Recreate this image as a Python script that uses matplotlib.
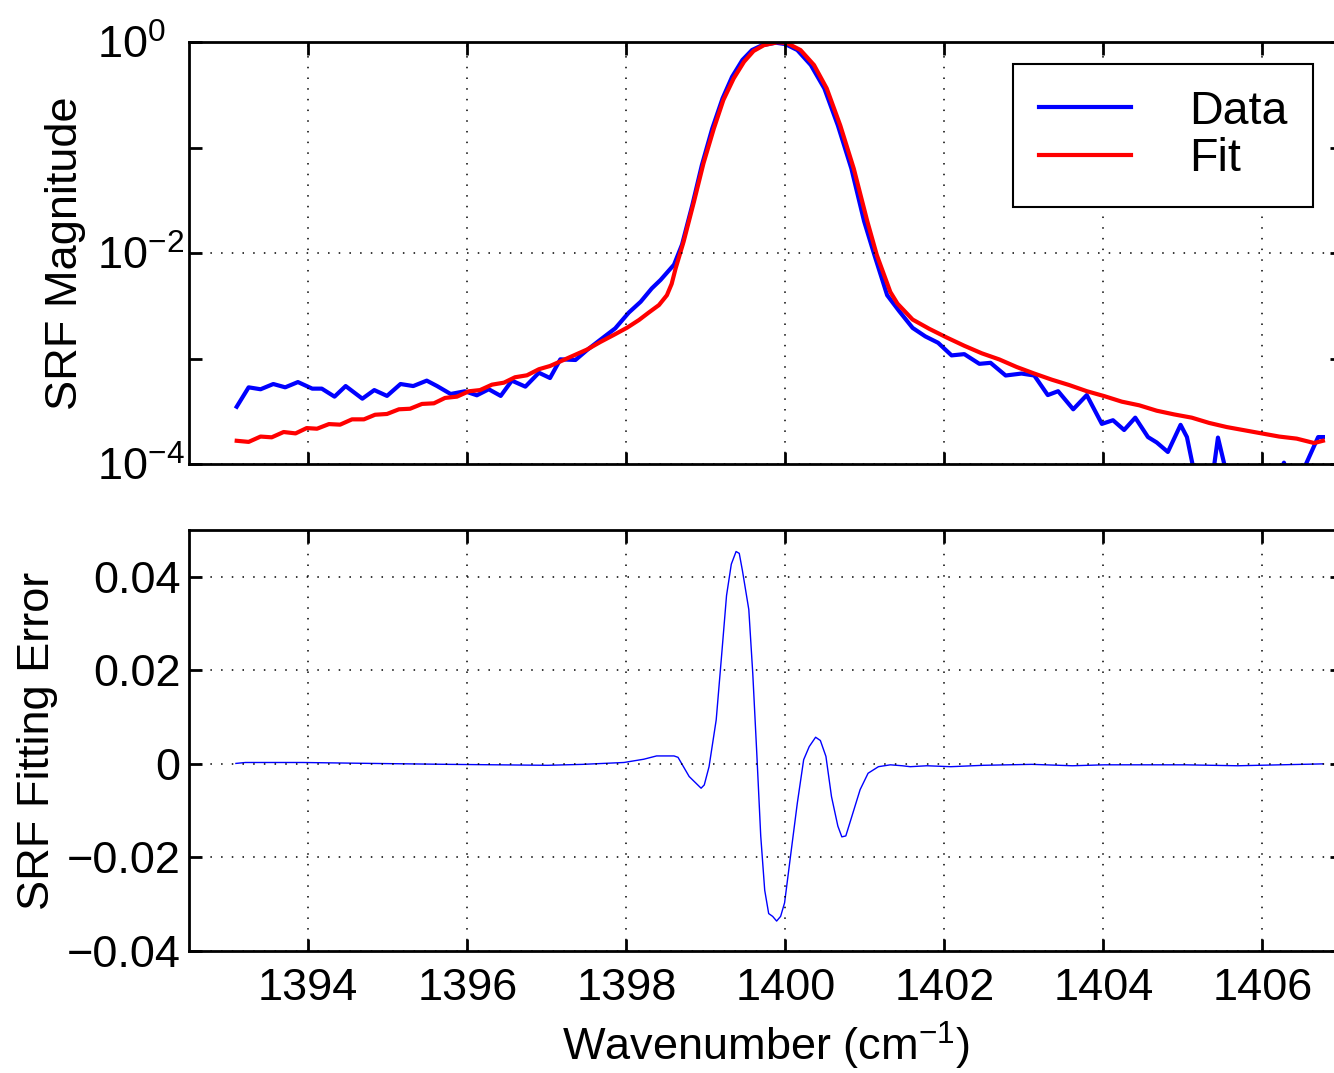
import numpy as np
import matplotlib
matplotlib.use("Agg")
import matplotlib.pyplot as plt
from matplotlib.ticker import FixedLocator, FuncFormatter, NullFormatter

# DATA
data_wn = [1393.10, 1393.25, 1393.40, 1393.56, 1393.71, 1393.87, 1394.05, 1394.17,
           1394.33, 1394.47, 1394.68, 1394.83, 1394.99, 1395.16, 1395.32, 1395.49,
           1395.62, 1395.79, 1395.97, 1396.12, 1396.27, 1396.42, 1396.56, 1396.73,
           1396.90, 1397.04, 1397.17, 1397.36, 1397.51, 1397.67, 1397.86, 1398.03,
           1398.18, 1398.32, 1398.43, 1398.60, 1398.70, 1398.83, 1398.95, 1399.08,
           1399.21, 1399.33, 1399.46, 1399.58, 1399.71, 1399.88, 1400.00, 1400.15,
           1400.32, 1400.49, 1400.66, 1400.83, 1400.99, 1401.12, 1401.28, 1401.43,
           1401.60, 1401.76, 1401.92,
           1402.09, 1402.25, 1402.44, 1402.58, 1402.77, 1402.97, 1403.13, 1403.30,
           1403.43, 1403.62, 1403.79, 1403.98, 1404.12, 1404.26, 1404.40, 1404.56,
           1404.67, 1404.81, 1404.97, 1405.05, 1405.18, 1405.30, 1405.44, 1405.55,
           1405.70, 1405.90, 1406.10, 1406.27, 1406.40, 1406.52, 1406.70, 1406.76]
data_srf = [3.49e-4, 5.33e-4, 5.11e-4, 5.73e-4, 5.33e-4, 5.98e-4, 5.18e-4, 5.18e-4,
            4.35e-4, 5.48e-4, 4.16e-4, 5.02e-4, 4.42e-4, 5.73e-4, 5.48e-4, 6.17e-4,
            5.48e-4, 4.61e-4, 4.89e-4, 4.48e-4, 5.11e-4, 4.42e-4, 6.17e-4, 5.41e-4,
            7.33e-4, 6.53e-4, 9.82e-4, 9.68e-4, 1.21e-3, 1.50e-3, 1.93e-3, 2.72e-3,
            3.45e-3, 4.62e-3, 5.55e-3, 7.76e-3, 1.20e-2, 2.85e-2, 6.82e-2, 0.151,
            0.292, 0.468, 0.676, 0.839, 0.933, 0.985, 0.955, 0.839,
            0.605, 0.363, 0.162, 6.31e-2, 2.00e-2, 9.55e-3, 3.98e-3, 2.82e-3,
            1.95e-3, 1.62e-3, 1.41e-3,
            1.07e-3, 1.10e-3, 8.9e-4, 9.1e-4, 6.9e-4, 7.2e-4, 6.9e-4, 4.5e-4,
            4.9e-4, 3.3e-4, 4.5e-4, 2.4e-4, 2.6e-4, 2.1e-4, 2.75e-4, 1.8e-4,
            1.6e-4, 1.3e-4, 2.35e-4, 1.8e-4, 6e-5, 3e-5, 1.78e-4, 8e-5,
            3e-5, 2e-5, 5e-5, 1.03e-4, 5e-5, 9e-5, 1.8e-4, 1.8e-4]

fit_wn = [1393.10, 1393.25, 1393.40, 1393.54, 1393.69, 1393.84, 1393.98, 1394.11,
          1394.26, 1394.40, 1394.55, 1394.70, 1394.84, 1394.99, 1395.14, 1395.28,
          1395.43, 1395.58, 1395.72, 1395.87, 1396.02, 1396.16, 1396.31, 1396.46,
          1396.60, 1396.75, 1396.90, 1397.04, 1397.19, 1397.34, 1397.51, 1397.67,
          1397.84, 1398.01, 1398.16, 1398.28, 1398.41, 1398.51, 1398.57, 1398.62,
          1398.72, 1398.85, 1398.97, 1399.10, 1399.22, 1399.35, 1399.48, 1399.60,
          1399.73, 1399.90, 1400.02, 1400.19, 1400.36, 1400.52, 1400.69, 1400.86,
          1401.03, 1401.15, 1401.32, 1401.41, 1401.60, 1401.81, 1402.03,
          1402.25, 1402.47, 1402.69, 1402.91, 1403.13, 1403.35, 1403.57, 1403.79,
          1404.01, 1404.23, 1404.45, 1404.67, 1404.89, 1405.11, 1405.33, 1405.55,
          1405.77, 1405.99, 1406.21, 1406.43, 1406.65, 1406.76]
fit_srf = [1.66e-4, 1.62e-4, 1.82e-4, 1.79e-4, 2.01e-4, 1.95e-4, 2.19e-4, 2.16e-4,
           2.39e-4, 2.36e-4, 2.65e-4, 2.65e-4, 2.93e-4, 2.98e-4, 3.30e-4, 3.34e-4,
           3.71e-4, 3.76e-4, 4.23e-4, 4.35e-4, 4.89e-4, 5.02e-4, 5.65e-4, 5.90e-4,
           6.64e-4, 6.93e-4, 7.91e-4, 8.49e-4, 9.53e-4, 1.07e-3, 1.22e-3, 1.43e-3,
           1.67e-3, 1.96e-3, 2.32e-3, 2.72e-3, 3.21e-3, 3.98e-3, 5.10e-3, 7.16e-3,
           1.28e-2, 3.06e-2, 7.08e-2, 0.151, 0.282, 0.452, 0.650, 0.822,
           0.933, 0.995, 0.977, 0.839, 0.605, 0.363, 0.162, 6.31e-2,
           2.00e-2, 9.55e-3, 4.27e-3, 3.31e-3, 2.34e-3, 1.91e-3, 1.58e-3,
           1.32e-3, 1.12e-3, 9.8e-4, 8.3e-4, 7.2e-4, 6.3e-4, 5.6e-4, 4.9e-4,
           4.4e-4, 3.9e-4, 3.6e-4, 3.2e-4, 2.95e-4, 2.75e-4, 2.45e-4, 2.24e-4,
           2.09e-4, 1.95e-4, 1.82e-4, 1.74e-4, 1.58e-4, 1.66e-4]

err_wn = [1393.09, 1393.21, 1393.93, 1394.80, 1395.76, 1397.01, 1397.45, 1397.97,
          1398.22, 1398.38, 1398.60, 1398.65, 1398.79, 1398.94, 1398.98, 1399.04,
          1399.13, 1399.20, 1399.26, 1399.32, 1399.38, 1399.42, 1399.46, 1399.54,
          1399.59, 1399.64, 1399.69, 1399.74, 1399.79, 1399.84, 1399.89, 1399.94,
          1399.99, 1400.07, 1400.15, 1400.23, 1400.30, 1400.38, 1400.44, 1400.51,
          1400.58, 1400.66, 1400.71, 1400.76, 1400.84, 1400.94, 1401.04, 1401.17,
          1401.32, 1401.47, 1401.57, 1401.78, 1402.08, 1402.49, 1403.10, 1403.61,
          1404.01, 1405.03, 1405.69, 1406.76]
err_val = [0.0001, 0.0003, 0.0003, 0.0001, -0.0001, -0.0003, -0.0001, 0.0003,
           0.0010, 0.0017, 0.0017, 0.0014, -0.0027, -0.0052, -0.0045, -0.0006,
           0.0094, 0.0236, 0.0360, 0.0427, 0.0454, 0.0450, 0.0413, 0.0330,
           0.0193, 0.0024, -0.0154, -0.0270, -0.0320, -0.0326, -0.0336, -0.0326,
           -0.0297, -0.0190, -0.0084, 0.0009, 0.0037, 0.0057, 0.0050, 0.0016,
           -0.0070, -0.0133, -0.0156, -0.0154, -0.0110, -0.0055, -0.0020, -0.0006,
           -0.0002, -0.0004, -0.0006, -0.0004, -0.0006, -0.0003, -0.0001, -0.0004,
           -0.0002, -0.0002, -0.0004, 0.0000]

x_ticks = [1394, 1396, 1398, 1400, 1402, 1404, 1406]

plt.rcParams['font.family'] = ['Liberation Sans', 'DejaVu Sans']
plt.rcParams['mathtext.fontset'] = 'custom'
plt.rcParams['mathtext.rm'] = 'Liberation Sans'
plt.rcParams['mathtext.it'] = 'Liberation Sans:italic'
plt.rcParams['mathtext.default'] = 'regular'

FS = 32.5
W, H = 1334, 1073
fig = plt.figure(figsize=(W / 100, H / 100), dpi=100)

def px_axes(left, top, right, bottom):
    return fig.add_axes([left / W, 1 - bottom / H, (right - left) / W, (bottom - top) / H])

ax1 = px_axes(189, 42, 1342, 464)
ax2 = px_axes(189, 530, 1342, 951)

grid_style = dict(color='k', linestyle=(0, (1, 6)), linewidth=1.1)

for ax in (ax1, ax2):
    ax.set_xlim(1392.5, 1407)
    ax.set_xticks(x_ticks)
    ax.tick_params(which='both', direction='in', length=9, width=2,
                   top=True, right=True, labelsize=FS)
    ax.tick_params(axis='x', pad=12)
    ax.tick_params(axis='y', pad=6)
    for s in ax.spines.values():
        s.set_linewidth(2)
    ax.grid(True, which='major', **grid_style)
    ax.set_axisbelow(False)

# top panel
ax1.plot(data_wn, data_srf, color='#0000ff', lw=3, label='Data')
ax1.plot(fit_wn, fit_srf, color='#ff0000', lw=3, label='Fit')
ax1.set_yscale('log')
ax1.set_ylim(1e-4, 1)
ax1.yaxis.set_major_locator(FixedLocator([1e-4, 1e-2, 1]))
ax1.yaxis.set_minor_locator(FixedLocator([1e-3, 1e-1]))
ax1.yaxis.set_minor_formatter(NullFormatter())
ax1.yaxis.set_major_formatter(FuncFormatter(lambda v, _: r'$10^{%d}$' % round(np.log10(v))))
ax1.tick_params(axis='x', labelbottom=False)
# MATLAB lines up the "10" of each label, the exponent hangs to the right
ax1.tick_params(axis='y', pad=66)
for lab in ax1.get_yticklabels():
    lab.set_horizontalalignment('left')
ax1.set_ylabel('SRF Magnitude', fontsize=FS, labelpad=8)

leg = ax1.legend(loc='upper right', bbox_to_anchor=(0.9748, 0.9479), borderaxespad=0,
                 fontsize=33.5, fancybox=False, framealpha=1, edgecolor='k',
                 handlelength=1.98, handletextpad=1.25, labelspacing=0.08,
                 borderpad=0.55)
leg.get_frame().set_linewidth(1.5)

# bottom panel
ax2.plot(err_wn, err_val, color='#0000ff', lw=1.0)
ax2.set_ylim(-0.04, 0.05)
ax2.set_yticks([-0.04, -0.02, 0, 0.02, 0.04])
ax2.yaxis.set_major_formatter(FuncFormatter(
    lambda v, _: '0' if abs(v) < 1e-9 else ('%.2f' % v).replace('-', '\u2212')))
ax2.set_ylabel('SRF Fitting Error', fontsize=FS, labelpad=6)
ax2.set_xlabel('Wavenumber (cm$^{-1}$)', fontsize=FS, labelpad=8)

fig.savefig('out.png', dpi=100)
